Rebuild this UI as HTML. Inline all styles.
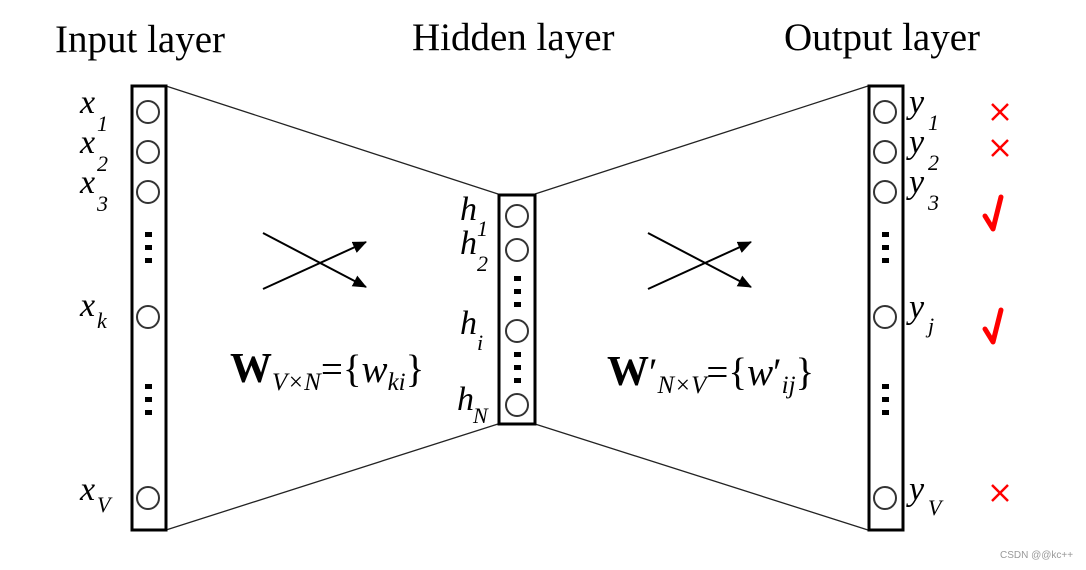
<!DOCTYPE html>
<html><head><meta charset="utf-8"><style>
html,body{margin:0;padding:0;background:#fff;}
svg{display:block;}
.t{font-family:"Liberation Serif",serif;font-size:39px;fill:#000;}
.v{font-family:"Liberation Serif",serif;font-style:italic;font-size:34px;fill:#000;}
.s{font-family:"Liberation Serif",serif;font-style:italic;font-size:22px;fill:#000;}
.m{font-family:"Liberation Serif",serif;font-size:39px;fill:#000;}
</style></head><body>
<svg width="1086" height="570" viewBox="0 0 1086 570" xmlns="http://www.w3.org/2000/svg">
<defs>
<marker id="b" viewBox="0 0 14 12" markerWidth="14" markerHeight="12" refX="13" refY="6" orient="auto" markerUnits="userSpaceOnUse"><path d="M0,0 L14,6 L0,12 z" fill="#000"/></marker></defs>
<text class="t" x="55" y="52">Input layer</text>
<text class="t" x="412" y="50">Hidden layer</text>
<text class="t" x="784" y="50">Output layer</text>
<g stroke="#222" stroke-width="1.3" fill="none">
<line x1="166" y1="86" x2="498" y2="194"/><line x1="166" y1="530" x2="498" y2="424"/>
<line x1="535" y1="194" x2="868" y2="86"/><line x1="535" y1="424" x2="868" y2="530"/>
</g>
<g stroke="#000" stroke-width="3" fill="none">
<rect x="132" y="86" width="34" height="444"/>
<rect x="499" y="195" width="36" height="229"/>
<rect x="869" y="86" width="34" height="444"/>
</g>
<g stroke="#333" stroke-width="2" fill="none">
<circle cx="148" cy="112" r="11"/><circle cx="148" cy="152" r="11"/><circle cx="148" cy="192" r="11"/><circle cx="148" cy="317" r="11"/><circle cx="148" cy="498" r="11"/>
<circle cx="517" cy="216" r="11"/><circle cx="517" cy="250" r="11"/><circle cx="517" cy="331" r="11"/><circle cx="517" cy="405" r="11"/>
<circle cx="885" cy="112" r="11"/><circle cx="885" cy="152" r="11"/><circle cx="885" cy="192" r="11"/><circle cx="885" cy="317" r="11"/><circle cx="885" cy="498" r="11"/>
</g>
<g fill="#000">
<rect x="145" y="232" width="7" height="5"/><rect x="145" y="245" width="7" height="5"/><rect x="145" y="258" width="7" height="5"/>
<rect x="145" y="384" width="7" height="5"/><rect x="145" y="397" width="7" height="5"/><rect x="145" y="410" width="7" height="5"/>
<rect x="882" y="232" width="7" height="5"/><rect x="882" y="245" width="7" height="5"/><rect x="882" y="258" width="7" height="5"/>
<rect x="882" y="384" width="7" height="5"/><rect x="882" y="397" width="7" height="5"/><rect x="882" y="410" width="7" height="5"/>
<rect x="514" y="276" width="7" height="5"/><rect x="514" y="289" width="7" height="5"/><rect x="514" y="302" width="7" height="5"/>
<rect x="514" y="352" width="7" height="5"/><rect x="514" y="365" width="7" height="5"/><rect x="514" y="378" width="7" height="5"/>
</g>
<g stroke="#000" stroke-width="2">
<line x1="263" y1="233" x2="366" y2="287" marker-end="url(#b)"/>
<line x1="263" y1="289" x2="366" y2="242" marker-end="url(#b)"/>
<line x1="648" y1="233" x2="751" y2="287" marker-end="url(#b)"/>
<line x1="648" y1="289" x2="751" y2="242" marker-end="url(#b)"/>
</g>
<text class="v" x="80" y="113">x</text><text class="s" x="97" y="131">1</text>
<text class="v" x="80" y="153">x</text><text class="s" x="97" y="171">2</text>
<text class="v" x="80" y="193">x</text><text class="s" x="97" y="211">3</text>
<text class="v" x="80" y="316">x</text><text class="s" x="97" y="328">k</text>
<text class="v" x="80" y="500">x</text><text class="s" x="97" y="512">V</text>
<text class="v" x="460" y="220">h</text><text class="s" x="477" y="236">1</text>
<text class="v" x="460" y="254">h</text><text class="s" x="477" y="271">2</text>
<text class="v" x="460" y="334">h</text><text class="s" x="477" y="350">i</text>
<text class="v" x="457" y="410">h</text><text class="s" x="473" y="423">N</text>
<text class="v" x="909" y="113">y</text><text class="s" x="928" y="130">1</text>
<text class="v" x="909" y="153">y</text><text class="s" x="928" y="170">2</text>
<text class="v" x="909" y="193">y</text><text class="s" x="928" y="210">3</text>
<text class="v" x="909" y="318">y</text><text class="s" x="928" y="333">j</text>
<text class="v" x="909" y="500">y</text><text class="s" x="928" y="515">V</text>
<text x="230" y="382" class="m"><tspan font-weight="bold" font-size="42">W</tspan><tspan font-style="italic" font-size="25" dy="8">V×N</tspan><tspan dy="-8">={</tspan><tspan font-style="italic">w</tspan><tspan font-style="italic" font-size="25" dy="8">ki</tspan><tspan dy="-8">}</tspan></text>
<text x="607" y="385" class="m"><tspan font-weight="bold" font-size="42">W</tspan><tspan>′</tspan><tspan font-style="italic" font-size="25" dy="8">N×V</tspan><tspan dy="-8">={</tspan><tspan font-style="italic">w</tspan><tspan>′</tspan><tspan font-style="italic" font-size="25" dy="8">ij</tspan><tspan dy="-8">}</tspan></text>
<g stroke="#f00" stroke-width="2.5">
<line x1="992" y1="104" x2="1008" y2="120"/><line x1="1008" y1="104" x2="992" y2="120"/>
<line x1="992" y1="140" x2="1008" y2="156"/><line x1="1008" y1="140" x2="992" y2="156"/>
<line x1="992" y1="485" x2="1008" y2="501"/><line x1="1008" y1="485" x2="992" y2="501"/>
</g>
<g stroke="#f00" stroke-width="5" fill="none" stroke-linecap="round" stroke-linejoin="round">
<path d="M985,216 L993,229 L1001,197"/>
<path d="M985,329 L993,342 L1001,310"/>
</g>
<text x="1000" y="558" font-family="Liberation Sans,sans-serif" font-size="10" fill="#999">CSDN @@kc++</text>
</svg>
</body></html>
